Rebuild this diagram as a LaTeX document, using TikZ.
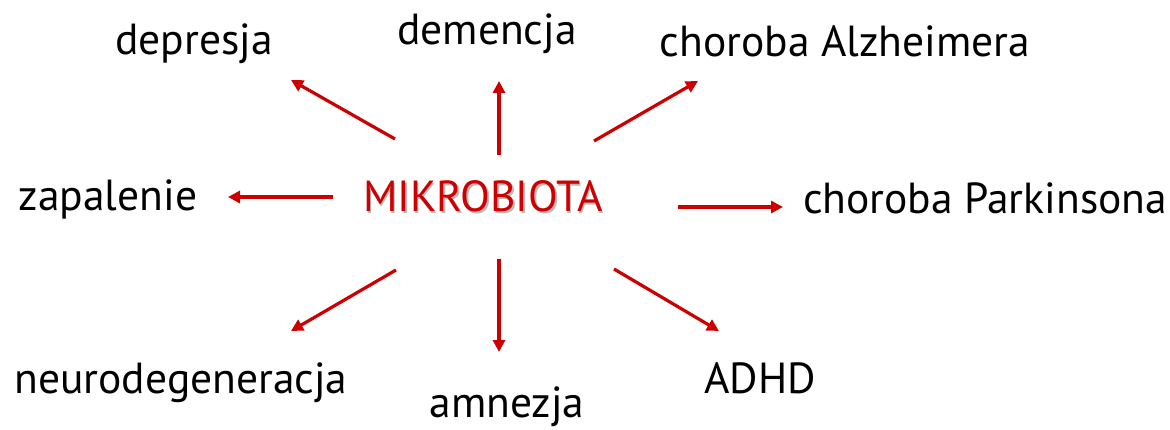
\documentclass[tikz,border=0pt]{standalone}
\usepackage{fontspec}
\setmainfont{PT Sans}
\usepackage{tikz}
\usetikzlibrary{arrows.meta,positioning}
\definecolor{mikrored}{RGB}{204,0,0}
\definecolor{shadowgray}{RGB}{185,185,185}

\begin{document}
\begin{tikzpicture}[x=1pt,y=-1pt]
  \tikzstyle{term}=[inner sep=0pt,anchor=base,font=\fontsize{43.5}{52}\selectfont]
  \tikzstyle{arr}=[draw=mikrored,line width=3.2pt,-{Triangle[length=12pt,width=12pt]}]
  \useasboundingbox (0,0) rectangle (1170,430);
  % hub
  \node[term,text=mikrored] (mikro) at (483,212)
    {{\color{shadowgray}\rlap{\kern1.5pt\raisebox{-1.5pt}{MIKROBIOTA}}}MIKROBIOTA};
  % outcomes
  \node[term] (depresja) at (194,55) {depresja};
  \node[term] (demencja) at (487,45) {demencja};
  \node[term] (alzheimer) at (845,57) {choroba Alzheimera};
  \node[term] (zapalenie) at (108,211) {zapalenie};
  \node[term] (parkinson) at (985,214) {choroba Parkinsona};
  \node[term] (neurodeg) at (181,393) {neurodegeneracja};
  \node[term] (amnezja) at (507,417) {amnezja};
  \node[term] (adhd) at (760,393) {ADHD};
  % arrow ends
  \coordinate (dep-s) at (395,139);  \coordinate (dep-e) at (291,80);
  \coordinate (dem-s) at (499,155);  \coordinate (dem-e) at (499,81);
  \coordinate (alz-s) at (594,141);  \coordinate (alz-e) at (698,81);
  \coordinate (zap-s) at (333,197);  \coordinate (zap-e) at (228,197);
  \coordinate (par-s) at (678,207);  \coordinate (par-e) at (783,207);
  \coordinate (neu-s) at (396,270);  \coordinate (neu-e) at (291,331);
  \coordinate (amn-s) at (499,259);  \coordinate (amn-e) at (499,352);
  \coordinate (adh-s) at (614,269);  \coordinate (adh-e) at (719,331);
  \foreach \a in {dep,dem,alz,zap,par,neu,amn,adh}
    \draw[arr] (\a-s) -- (\a-e);
\end{tikzpicture}
\end{document}
